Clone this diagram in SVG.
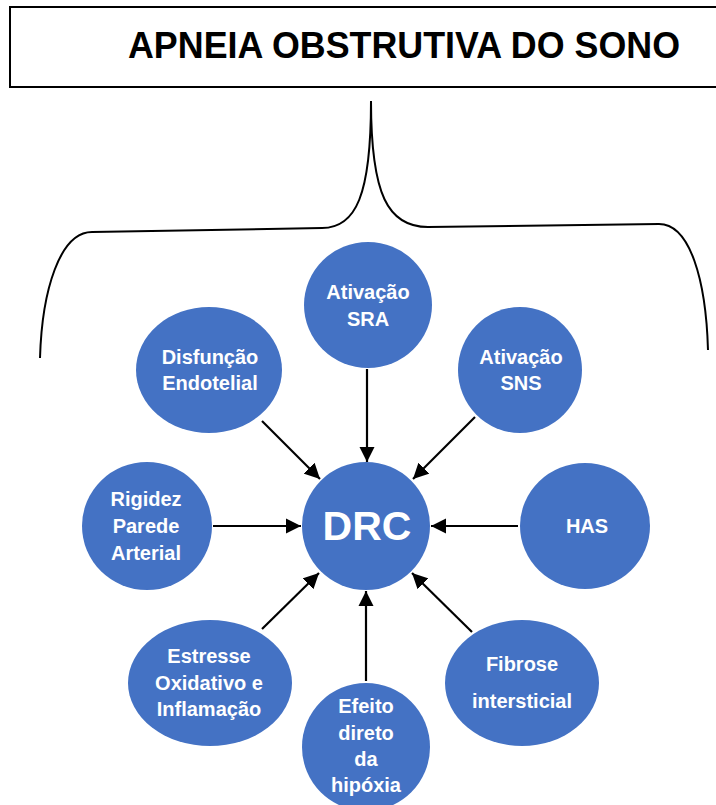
<svg xmlns="http://www.w3.org/2000/svg" width="716" height="805" viewBox="0 0 716 805">
<defs>
<style>
.node{fill:#4472C4;}
.lbl{fill:#ffffff;font-family:"Liberation Sans",Arial,sans-serif;font-weight:bold;font-size:20px;text-anchor:middle;}
.big{font-size:41px;}
.conn line{stroke:#000;stroke-width:2.2;}
</style>
<marker id="ah" viewBox="0 0 10 10" refX="10" refY="5" markerWidth="7" markerHeight="7" markerUnits="strokeWidth" orient="auto">
<path d="M0,0 L10,5 L0,10 Z" fill="#000"/>
</marker>
</defs>
<rect width="716" height="805" fill="#fff"/>
<g id="title">
<rect x="10" y="7" width="720" height="80" fill="#fff" stroke="#000" stroke-width="2"/>
<text x="128" y="58" font-family="'Liberation Sans',Arial,sans-serif" font-weight="bold" font-size="37" textLength="552" lengthAdjust="spacingAndGlyphs" fill="#000">APNEIA OBSTRUTIVA DO SONO</text>
</g>
<g id="brace" fill="none" stroke="#000" stroke-width="2">
<path d="M371 101 C371 195 356 228 322 228 L92 232 C60 232 42 290 40 358"/>
<path d="M371 101 C371 195 388 227 428 227 L659 224 C690 224 706 280 708 350"/>
</g>
<g class="conn" id="connectors">
<line x1="367" y1="369" x2="367" y2="462" marker-end="url(#ah)"/>
<line x1="262" y1="421" x2="320" y2="479" marker-end="url(#ah)"/>
<line x1="475" y1="417" x2="413" y2="479" marker-end="url(#ah)"/>
<line x1="213" y1="526" x2="301" y2="526" marker-end="url(#ah)"/>
<line x1="518" y1="526" x2="431" y2="526" marker-end="url(#ah)"/>
<line x1="262" y1="629" x2="319" y2="573" marker-end="url(#ah)"/>
<line x1="366" y1="681" x2="366" y2="591" marker-end="url(#ah)"/>
<line x1="472" y1="632" x2="412" y2="573" marker-end="url(#ah)"/>
</g>
<g id="sra">
<ellipse class="node" cx="368" cy="305" rx="64" ry="63"/>
<text class="lbl" x="368" y="299">Ativação</text>
<text class="lbl" x="368" y="326">SRA</text>
</g>
<g id="disfuncao">
<ellipse class="node" cx="209" cy="370" rx="73" ry="63"/>
<text class="lbl" x="210" y="364">Disfunção</text>
<text class="lbl" x="210" y="390">Endotelial</text>
</g>
<g id="sns">
<ellipse class="node" cx="520" cy="370" rx="62" ry="63"/>
<text class="lbl" x="521" y="364">Ativação</text>
<text class="lbl" x="521" y="390">SNS</text>
</g>
<g id="rigidez">
<ellipse class="node" cx="147" cy="526" rx="65" ry="64"/>
<text class="lbl" x="146" y="506">Rigidez</text>
<text class="lbl" x="146" y="533">Parede</text>
<text class="lbl" x="146" y="560">Arterial</text>
</g>
<g id="drc">
<ellipse class="node" cx="366" cy="526" rx="64" ry="64"/>
<text class="lbl big" x="367" y="540">DRC</text>
</g>
<g id="has">
<ellipse class="node" cx="585" cy="526" rx="65" ry="63"/>
<text class="lbl" x="587" y="533">HAS</text>
</g>
<g id="estresse">
<ellipse class="node" cx="210" cy="683" rx="82" ry="63"/>
<text class="lbl" x="209" y="663">Estresse</text>
<text class="lbl" x="209" y="690">Oxidativo e</text>
<text class="lbl" x="209" y="716">Inflamação</text>
</g>
<g id="efeito">
<ellipse class="node" cx="366" cy="747" rx="64" ry="64"/>
<text class="lbl" x="366" y="713">Efeito</text>
<text class="lbl" x="366" y="740">direto</text>
<text class="lbl" x="366" y="766">da</text>
<text class="lbl" x="366" y="792">hipóxia</text>
</g>
<g id="fibrose">
<ellipse class="node" cx="522" cy="683" rx="77" ry="63"/>
<text class="lbl" x="522" y="671">Fibrose</text>
<text class="lbl" x="522" y="708">intersticial</text>
</g>
</svg>
